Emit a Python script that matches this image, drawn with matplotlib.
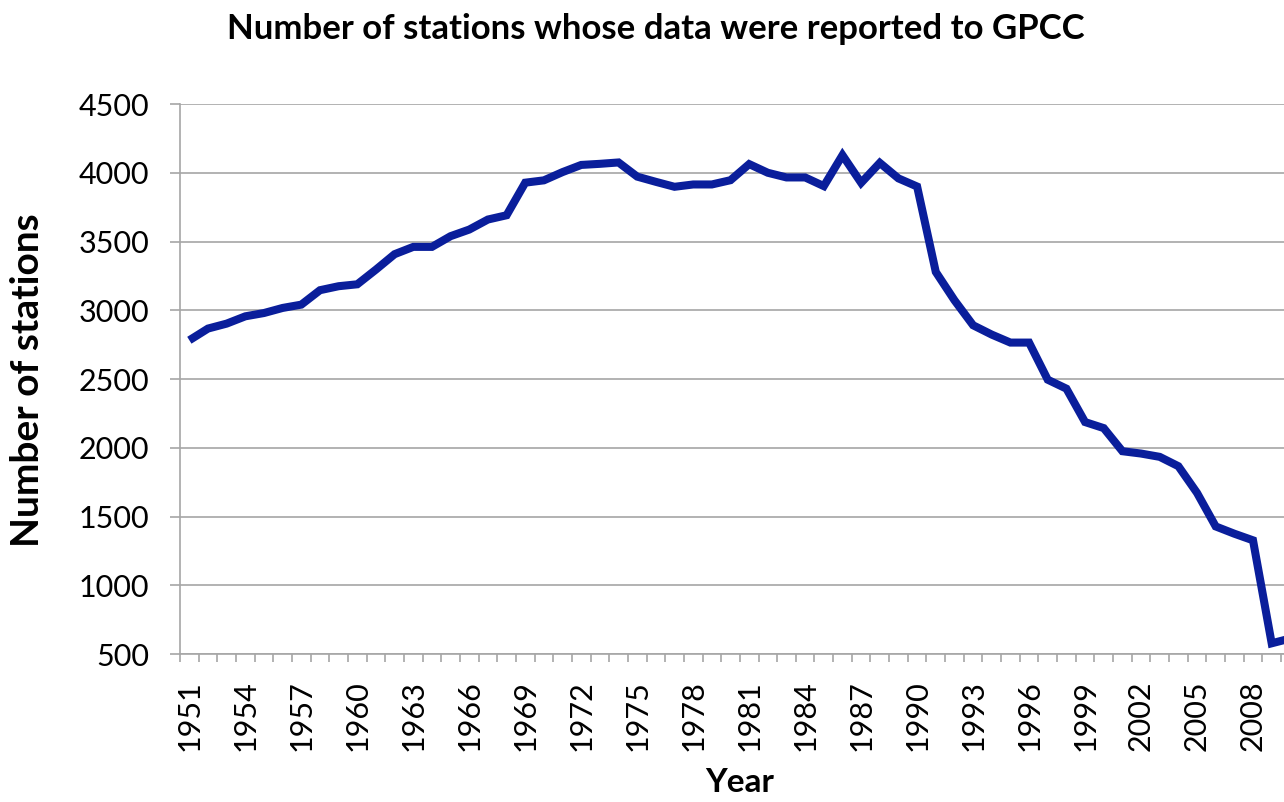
import matplotlib
matplotlib.use("Agg")
import matplotlib.pyplot as plt
from matplotlib.ticker import FixedLocator

plt.rcParams['font.family'] = ['Lato', 'DejaVu Sans']

# station counts per year
years = list(range(1951, 2011))
stations = [2782, 2867, 2903, 2956, 2980, 3017, 3041, 3146, 3175, 3189,
            3296, 3408, 3461, 3461, 3539, 3587, 3660, 3691, 3928, 3945,
            4005, 4057, 4065, 4075, 3972, 3934, 3898, 3915, 3915, 3946,
            4063, 4000, 3966, 3966, 3903, 4128, 3927, 4072, 3959, 3900,
            3279, 3073, 2891, 2823, 2765, 2765, 2495, 2430, 2187, 2143,
            1975, 1958, 1934, 1866, 1672, 1428, 1375, 1327, 578, 613]
year_labels = list(range(1951, 2009, 3))
y_ticks = list(range(500, 4501, 500))

grey = '#a6a6a6'

fig = plt.figure(figsize=(12.84, 8.02), dpi=100)
# axes runs a little past the right edge of the figure
ax = fig.add_axes([0.1402, 0.1845, 0.872, 0.6858])

ax.plot(years, stations, color='#0a1e9b', lw=5.8, solid_joinstyle='miter',
        solid_capstyle='butt', zorder=3)

ax.set_xlim(1950.5, 2010.5)
ax.set_ylim(500, 4500)
ax.set_yticks(y_ticks)
ax.set_xticks(year_labels)
ax.set_xticklabels([str(y) for y in year_labels], rotation=90)
ax.xaxis.set_minor_locator(FixedLocator([y + 0.5 for y in range(1950, 2011)]))

ax.grid(axis='y', color=grey, lw=1.2)
ax.set_axisbelow(True)
for side in ['top', 'right']:
    ax.spines[side].set_visible(False)
for side in ['left', 'bottom']:
    ax.spines[side].set_color(grey)
    ax.spines[side].set_linewidth(1.2)

ax.tick_params(axis='y', length=7.2, width=1.2, color=grey, labelsize=22, pad=15)
ax.tick_params(axis='x', which='major', length=0, labelsize=22, pad=19)
ax.tick_params(axis='x', which='minor', length=6, width=1.2, color=grey)

ax.set_xlabel('Year', fontsize=24, fontweight='bold', labelpad=12)
fig.text(28 / 1284, 1 - 380 / 802, 'Number of stations', rotation=90,
         ha='center', va='center', fontsize=28, fontweight='bold')
fig.text(655.5 / 1284, 1 - 39 / 802, 'Number of stations whose data were reported to GPCC',
         ha='center', va='baseline', fontsize=25, fontweight='bold')

fig.savefig('out.png', dpi=100)
